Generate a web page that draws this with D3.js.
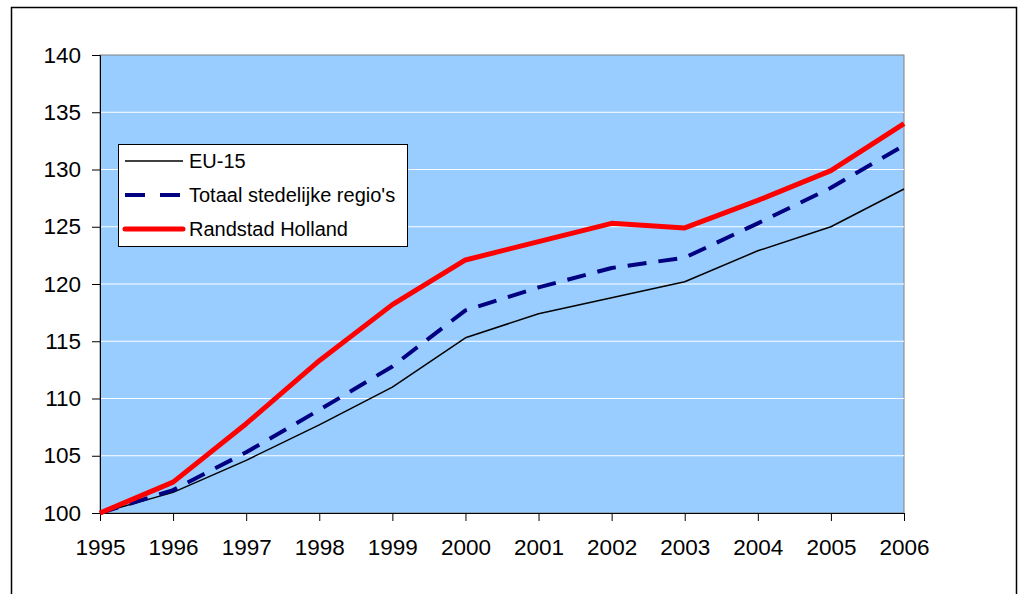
<!DOCTYPE html>
<html><head><meta charset="utf-8">
<script src="https://cdn.jsdelivr.net/npm/d3@7"></script>
<style>body{margin:0;background:#fff;}svg{display:block;font-family:"Liberation Sans",Arial,sans-serif;}</style>
</head><body>
<svg id="c" width="1020" height="594"></svg>
<script>
const years = [1995,1996,1997,1998,1999,2000,2001,2002,2003,2004,2005,2006];
const eu15 = [100,101.8,104.6,107.7,111.0,115.3,117.4,118.8,120.2,122.9,125.0,128.3];
const totaal = [100,102.0,105.3,109.0,112.8,117.7,119.7,121.4,122.3,125.3,128.4,132.1];
const randstad = [100,102.7,107.8,113.3,118.2,122.1,123.7,125.3,124.9,127.3,129.9,134.0];
const yTicks = [100,105,110,115,120,125,130,135,140];
const seriesNames = ["EU-15","Totaal stedelijke regio's","Randstad Holland"];

const svg = d3.select("#c");
const L=100,R=904,T=55,B=513;
svg.append("rect").attr("x",11.5).attr("y",7.5).attr("width",1005).attr("height",600).attr("fill","#fff").attr("stroke","#000").attr("stroke-width",1.5);

const x = d3.scalePoint().domain(years).range([L,R]);
const y = d3.scaleLinear().domain([100,140]).range([B,T]);

svg.append("rect").attr("x",L).attr("y",T).attr("width",R-L).attr("height",B-T).attr("fill","#99CCFF").attr("stroke","#808080").attr("stroke-width",1);

svg.append("g").selectAll("line").data(yTicks.slice(1,-1)).join("line")
  .attr("x1",L).attr("x2",R).attr("y1",d=>y(d)).attr("y2",d=>y(d))
  .attr("stroke","#fff").attr("stroke-width",1);

const yAxis = svg.append("g").attr("transform",`translate(${L},0)`)
  .call(d3.axisLeft(y).tickValues(yTicks).tickSize(8).tickPadding(11).tickFormat(d3.format("d")));
yAxis.select(".domain").attr("stroke","#000");
yAxis.selectAll("text").attr("font-size",22.5).attr("fill","#000").attr("font-family","Liberation Sans, Arial, sans-serif");

const xAxis = svg.append("g").attr("transform",`translate(0,${B})`)
  .call(d3.axisBottom(x).tickSize(8).tickPadding(18).tickFormat(d3.format("d")));
xAxis.select(".domain").attr("stroke","#000");
xAxis.selectAll("text").attr("font-size",22.5).attr("fill","#000").attr("font-family","Liberation Sans, Arial, sans-serif");

const line = d3.line().x((d,i)=>x(years[i])).y(d=>y(d));
const styles = [
  {stroke:"#000",w:1.5,dash:null},
  {stroke:"#000080",w:4,dash:"19,12"},
  {stroke:"#FF0000",w:5,dash:null}
];
[eu15,totaal,randstad].forEach((s,i)=>{
  svg.append("path").datum(s).attr("d",line).attr("fill","none")
    .attr("stroke",styles[i].stroke).attr("stroke-width",styles[i].w)
    .attr("stroke-dasharray",styles[i].dash).attr("stroke-linejoin","round");
});

const lg = svg.append("g");
lg.append("rect").attr("x",118.5).attr("y",144.5).attr("width",289).attr("height",102).attr("fill","#fff").attr("stroke","#000").attr("stroke-width",1);
seriesNames.forEach((n,i)=>{
  const yy = 161 + i*34;
  lg.append("line").attr("x1",125).attr("x2",183).attr("y1",yy).attr("y2",yy)
    .attr("stroke",styles[i].stroke).attr("stroke-width",styles[i].w)
    .attr("stroke-dasharray",i===1?"20,15":null).attr("stroke-linecap",i===2?"round":"butt");
  lg.append("text").attr("x",189).attr("y",yy+7).attr("font-size",20).attr("fill","#000").text(n);
});
</script>
</body></html>
